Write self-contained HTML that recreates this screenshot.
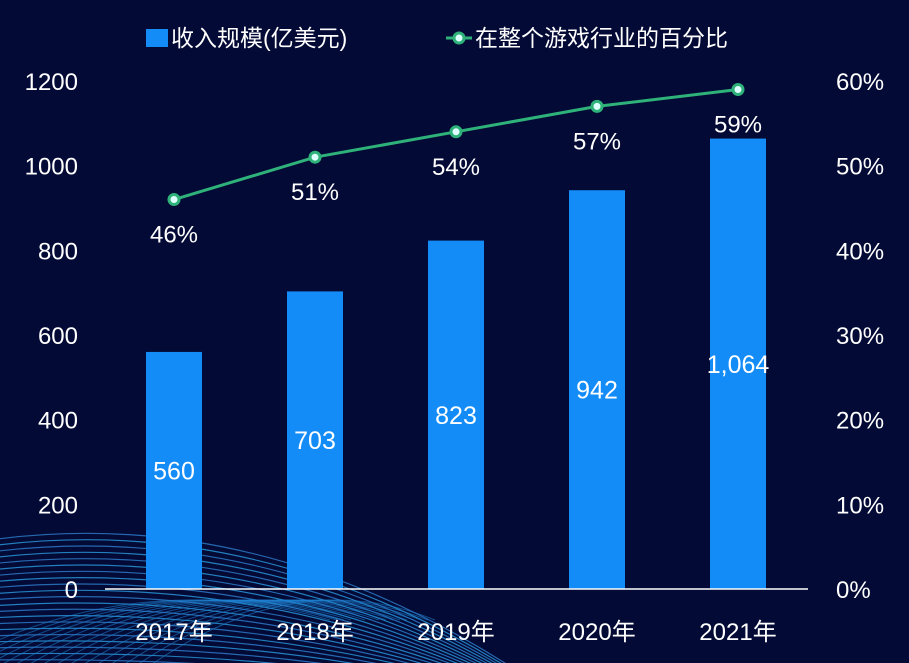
<!DOCTYPE html>
<html><head><meta charset="utf-8"><style>
html,body{margin:0;padding:0;background:#030a35;width:909px;height:663px;overflow:hidden;}
svg{display:block;font-family:"Liberation Sans","Noto Sans CJK SC",sans-serif;}
</style></head><body>
<svg id="c" width="909" height="663">
<rect width="909" height="663" fill="#030a35"/>
<g id="waves"></g>
<g id="plot"></g>
<g>
<rect x="146" y="29" width="22" height="18" fill="#148cf7"/>
<text x="171" y="46" fill="#fff" font-size="23">收入规模(亿美元)</text>
<line x1="446" y1="38" x2="472" y2="38" stroke="#2fb27a" stroke-width="3"/>
<circle cx="459" cy="38" r="5" fill="#dff" stroke="#2fb27a" stroke-width="3"/>
<text x="475" y="46" fill="#fff" font-size="23">在整个游戏行业的百分比</text>
</g>
</svg>
<script>
const categories=["2017年","2018年","2019年","2020年","2021年"];
const revenue=[560,703,823,942,1064];
const revenueLabels=["560","703","823","942","1,064"];
const share=[46,51,54,57,59];
const leftTicks=[0,200,400,600,800,1000,1200];
const rightTicks=[0,10,20,30,40,50,60];
const NS="http://www.w3.org/2000/svg";
const y0=589,yTop=81;
const yL=v=>y0-(v/1200)*(y0-yTop);
const yR=v=>y0-(v/60)*(y0-yTop);
const xC=i=>174+i*141;
const plot=document.getElementById('plot');
function mk(t,a,p){const e=document.createElementNS(NS,t);for(const k in a)e.setAttribute(k,a[k]);(p||plot).appendChild(e);return e;}
const wg=document.getElementById('waves');
for(let k=0;k<24;k++){
  const s=k*6;
  const p=mk('path',{d:`M -10 ${540+s} Q 280 ${500+s*1.3} ${560-s*0.4} ${700}`,fill:'none',stroke:k%2?'#2a9be0':'#2f7fd0','stroke-width':1.2,opacity:0.8},wg);
  
  
}
for(let k=0;k<16;k++){
  const s=k*14;
  const p=mk('path',{d:`M ${-80+s} 680 Q ${120+s*0.8} 560 ${330+s*0.5} 620`,fill:'none',stroke:'#1f84d4','stroke-width':1,opacity:0.55},wg);
  
  
}
leftTicks.forEach(v=>{
  const t=mk('text',{x:78,y:yL(v)+9,'text-anchor':'end',fill:'#fff','font-size':24});
  t.textContent=v;
  
  
});
rightTicks.forEach(v=>{
  const t=mk('text',{x:836,y:yR(v)+9,fill:'#fff','font-size':24});
  t.textContent=v+'%';
  
  
});
revenue.forEach((v,i)=>{
  const r=mk('rect',{x:xC(i)-28,y:yL(v),width:56,height:y0-yL(v),fill:'#148cf7'});
  
  
  const t=mk('text',{x:xC(i),y:(yL(v)+y0)/2+9,'text-anchor':'middle',fill:'#fff','font-size':25});
  t.textContent=revenueLabels[i];
  
  
  const c=mk('text',{x:xC(i),y:640,'text-anchor':'middle',fill:'#fff','font-size':24});
  c.textContent=categories[i];
  
  
});
const ax=mk('line',{x1:105,y1:y0,x2:808,y2:y0,stroke:'#fff','stroke-width':1.5});


const ln=mk('polyline',{points:share.map((v,i)=>xC(i)+','+yR(v)).join(' '),fill:'none',stroke:'#2fb27a','stroke-width':3});


share.forEach((v,i)=>{
  const c=mk('circle',{cx:xC(i),cy:yR(v),r:5,fill:'#dff','stroke':'#2fb27a','stroke-width':3});
  
  
  const t=mk('text',{x:xC(i),y:yR(v)+43,'text-anchor':'middle',fill:'#fff','font-size':24});
  t.textContent=v+'%';
  
  
});
</script>
</body></html>
